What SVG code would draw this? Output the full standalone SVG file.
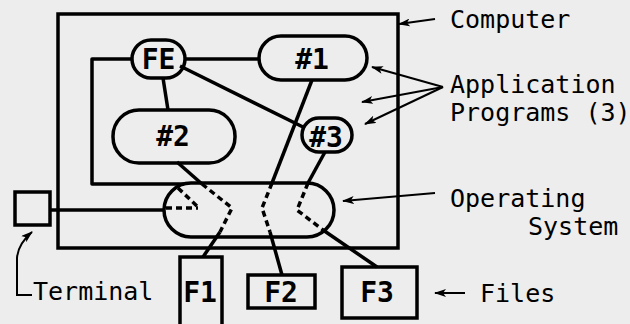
<svg xmlns="http://www.w3.org/2000/svg" width="630" height="324" viewBox="0 0 630 324">
<defs>
<marker id="ah" viewBox="0 0 12 8" refX="11" refY="4" markerWidth="12" markerHeight="8" markerUnits="userSpaceOnUse" orient="auto">
<path d="M0,0 L12,4 L0,8 L3,4 Z" fill="#000"/>
</marker>
</defs>
<style>
.box{fill:none;stroke:#000;stroke-width:3.5}
.ln{fill:none;stroke:#000;stroke-width:3.5;stroke-linejoin:round}
.dash{fill:none;stroke:#000;stroke-width:3.5;stroke-dasharray:6 4}
.arr{fill:none;stroke:#000;stroke-width:2;marker-end:url(#ah)}
.lbl{font-family:"DejaVu Sans Mono","Liberation Mono",monospace;font-size:25px;fill:#000}
.nt{font-family:"DejaVu Sans Mono","Liberation Mono",monospace;font-size:28px;font-weight:bold;fill:#000;text-anchor:middle}
</style>
<rect x="0" y="0" width="630" height="324" fill="#ededed"/>
<g id="computer"><rect class="box" x="58" y="14" width="340" height="234" stroke-width="4"/></g>
<g id="connectors">
<path class="ln" d="M185,59 L259,59"/>
<path class="ln" d="M163,78 L168,110"/>
<path class="ln" d="M180,66 L305,128"/>
<path class="ln" d="M132,59 L92,59 L92,184 L184,184"/>
<path class="ln" d="M50,210 L164,210"/>
<path class="dash" d="M166,208 L198,208"/>
<path class="dash" d="M178,188 L198,207"/>
<path class="ln" d="M177,162 L202,184"/>
<path class="dash" d="M202,184 L232,208 L220,232"/>
<path class="ln" d="M220,232 L203,257"/>
<path class="ln" d="M312,80 L272,183"/>
<path class="dash" d="M272,183 L262,208 L270,232"/>
<path class="ln" d="M270,232 L282,275"/>
<path class="ln" d="M325,152 L308,183"/>
<path class="dash" d="M308,183 L297,210 L323,230"/>
<path class="ln" d="M323,230 L377,267"/>
</g>
<g id="fe"><rect class="box" x="132" y="40" width="53" height="38" rx="19" fill="#ededed"/><text class="nt" x="158.5" y="69">FE</text></g>
<g id="app1"><rect class="box" x="259" y="36" width="108" height="44" rx="22" fill="#ededed"/><text class="nt" x="312" y="69">#1</text></g>
<g id="app2"><rect class="box" x="113" y="110" width="122" height="53" rx="26" fill="#ededed"/><text class="nt" x="173" y="146">#2</text></g>
<g id="app3"><rect class="box" x="302" y="118" width="50" height="34" rx="17" fill="#ededed"/><text class="nt" x="326" y="147">#3</text></g>
<g id="os"><rect class="box" x="164" y="183" width="170" height="54" rx="27" fill="none"/></g>
<g id="terminal"><rect class="box" x="15" y="192" width="35" height="33"/></g>
<g id="f1"><rect class="box" x="180" y="257" width="42" height="72"/><text class="nt" x="200" y="302">F1</text></g>
<g id="f2"><rect class="box" x="248" y="275" width="67" height="33"/><text class="nt" x="281" y="302">F2</text></g>
<g id="f3"><rect class="box" x="342" y="267" width="75" height="51"/><text class="nt" x="377" y="302">F3</text></g>
<g id="labels">
<path class="arr" d="M435,19 L399,24"/>
<text class="lbl" x="450" y="28">Computer</text>
<path class="arr" d="M443,87 L372,67"/>
<path class="arr" d="M443,87 L362,102"/>
<path class="arr" d="M443,87 L365,124"/>
<text class="lbl" x="450" y="93" font-size="24">Application</text>
<text class="lbl" x="450" y="121" font-size="24">Programs (3)</text>
<path class="arr" d="M435,193 L343,201"/>
<text class="lbl" x="450" y="207">Operating</text>
<text class="lbl" x="528" y="235">System</text>
<path class="arr" d="M465,293 L435,293"/>
<text class="lbl" x="480" y="302">Files</text>
<path class="arr" d="M32,295 L17,295 L17,258 Q18,244 32,232"/>
<text class="lbl" x="33" y="300">Terminal</text>
</g>
</svg>
